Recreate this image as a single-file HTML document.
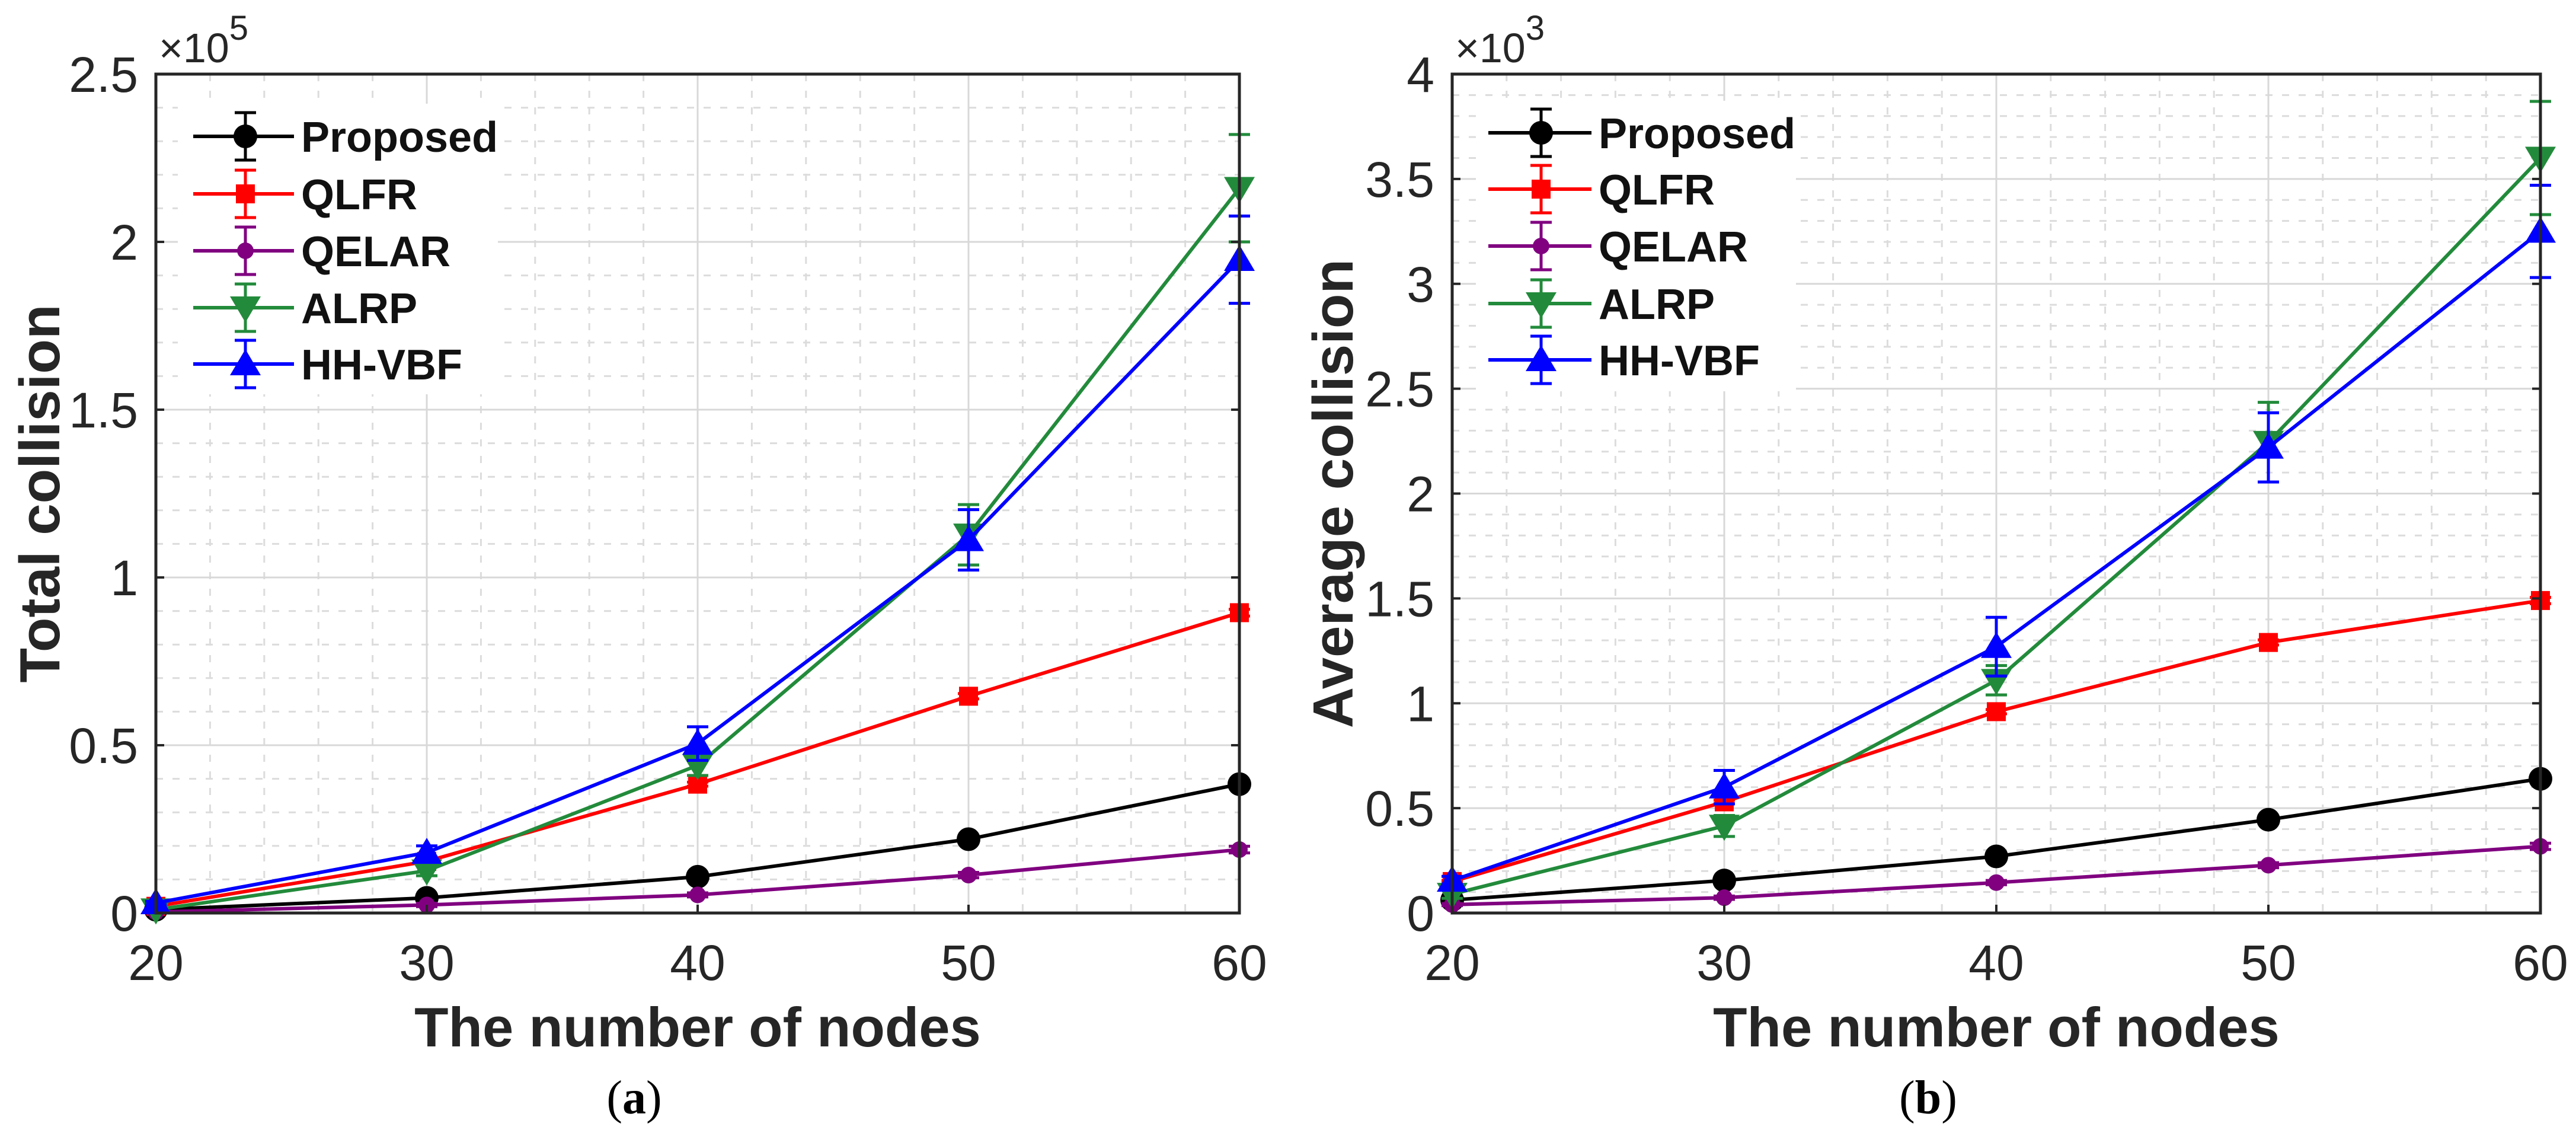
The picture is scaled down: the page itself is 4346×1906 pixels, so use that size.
<!DOCTYPE html>
<html><head><meta charset="utf-8">
<style>
html,body{margin:0;padding:0;background:#fff;}
svg{display:block;}
text{font-family:"Liberation Sans",sans-serif;}
</style></head>
<body>
<svg id="fig" width="4346" height="1906" viewBox="0 0 4346 1906" xmlns="http://www.w3.org/2000/svg"></svg>
<script>
const xCats = [20, 30, 40, 50, 60];
const seriesNames = ["Proposed", "QLFR", "QELAR", "ALRP", "HH-VBF"];
// Panel (a): total collision, units of 1e5
const aProposed = [0.01, 0.045, 0.108, 0.22, 0.384];
const aQLFR = [0.02, 0.154, 0.384, 0.646, 0.895];
const aQELAR = [0.003, 0.024, 0.054, 0.113, 0.189];
const aALRP = [0.01, 0.126, 0.44, 1.127, 2.16];
const aHHVBF = [0.03, 0.18, 0.505, 1.112, 1.947];
const aErrALRP = [0.005, 0.015, 0.03, 0.09, 0.16];
const aErrHHVBF = [0.005, 0.02, 0.05, 0.09, 0.13];
const aErrSmall = [0.003, 0.005, 0.006, 0.008, 0.01];
const aYTicks = [0, 0.5, 1, 1.5, 2, 2.5];
const aYTickLabels = ["0", "0.5", "1", "1.5", "2", "2.5"];
// Panel (b): average collision, units of 1e3
const bProposed = [0.062, 0.155, 0.27, 0.445, 0.64];
const bQLFR = [0.15, 0.53, 0.96, 1.29, 1.49];
const bQELAR = [0.04, 0.073, 0.145, 0.228, 0.318];
const bALRP = [0.09, 0.415, 1.11, 2.245, 3.6];
const bHHVBF = [0.155, 0.6, 1.27, 2.22, 3.25];
const bErrALRP = [0.02, 0.05, 0.07, 0.19, 0.27];
const bErrHHVBF = [0.02, 0.08, 0.14, 0.165, 0.22];
const bErrSmall = [0.005, 0.008, 0.01, 0.012, 0.015];
const bYTicks = [0, 0.5, 1, 1.5, 2, 2.5, 3, 3.5, 4];
const bYTickLabels = ["0", "0.5", "1", "1.5", "2", "2.5", "3", "3.5", "4"];
const xTickLabels = ["20", "30", "40", "50", "60"];

const NS = "http://www.w3.org/2000/svg";
const svg = document.getElementById("fig");
function mk(tag, attrs, parent, text) {
  const e = document.createElementNS(NS, tag);
  for (const k in attrs) e.setAttribute(k, attrs[k]);
  if (text !== undefined) e.textContent = text;
  (parent || svg).appendChild(e);
  return e;
}
const colors = ["#000000", "#ff0000", "#800080", "#228b3b", "#0000ff"];
const markers = ["circle", "square", "star", "tdown", "tup"];

function marker(g, type, cx, cy, col) {
  let m;
  if (type === "circle") m = mk("circle", {cx: cx, cy: cy, r: 20, fill: col}, g);
  else if (type === "square") m = mk("rect", {x: cx - 16, y: cy - 16, width: 32, height: 32, fill: col}, g);
  else if (type === "star") m = mk("circle", {cx: cx, cy: cy, r: 14, fill: col}, g);
  else if (type === "tdown") m = mk("polygon", {points: (cx - 26) + "," + (cy - 19) + " " + (cx + 26) + "," + (cy - 19) + " " + cx + "," + (cy + 25), fill: col}, g);
  else m = mk("polygon", {points: (cx - 26) + "," + (cy + 19) + " " + (cx + 26) + "," + (cy + 19) + " " + cx + "," + (cy - 25), fill: col}, g);
  
  
}
function errbar(g, cx, y1, y2, col) {
  mk("line", {x1: cx, y1: y1, x2: cx, y2: y2, stroke: col, "stroke-width": 5}, g);
  mk("line", {x1: cx - 18, y1: y1, x2: cx + 18, y2: y1, stroke: col, "stroke-width": 5}, g);
  mk("line", {x1: cx - 18, y1: y2, x2: cx + 18, y2: y2, stroke: col, "stroke-width": 5}, g);
}

function panel(cfg) {
  const {L, R, T, B, ymax, yTicks, yLabels, series, errs, ylabel, expo, legend, capX, ylabX, tag} = cfg;
  const g = mk("g", {});
  
  
  const xs = v => L + (v - 20) / 40 * (R - L);
  const ys = v => B - v / ymax * (B - T);
  const grid = mk("g", {}, g);
  
  
  for (let xv = 22; xv < 60; xv += 2) {
    if (xv % 10 === 0) continue;
    mk("line", {x1: xs(xv), y1: T, x2: xs(xv), y2: B, stroke: "#dcdcdc", "stroke-width": 3, "stroke-dasharray": "12 16"}, grid);
  }
  const maj = yTicks[1] - yTicks[0];
  const minorStep = maj / 5;
  for (let i = 1; i * minorStep < ymax - 1e-9; i++) {
    const v = i * minorStep;
    if (Math.abs(v / maj - Math.round(v / maj)) < 1e-6) continue;
    mk("line", {x1: L, y1: ys(v), x2: R, y2: ys(v), stroke: "#dcdcdc", "stroke-width": 3, "stroke-dasharray": "12 16"}, grid);
  }
  xCats.forEach(v => mk("line", {x1: xs(v), y1: T, x2: xs(v), y2: B, stroke: "#d8d8d8", "stroke-width": 3}, grid));
  yTicks.forEach(v => mk("line", {x1: L, y1: ys(v), x2: R, y2: ys(v), stroke: "#d8d8d8", "stroke-width": 3}, grid));
  const lg = mk("g", {}, g);
  
  
  mk("rect", {x: legend.x0, y: legend.y0, width: legend.w, height: legend.h, fill: "#fff"}, lg);
  series.forEach((vals, si) => {
    const sg = mk("g", {}, g);
    
    
    const col = colors[si];
    mk("polyline", {points: vals.map((v, i) => xs(xCats[i]) + "," + ys(v)).join(" "), fill: "none", stroke: col, "stroke-width": 6}, sg);
    vals.forEach((v, i) => {
      const e = errs[si][i];
      errbar(sg, xs(xCats[i]), ys(v + e), ys(v - e), col);
      marker(sg, markers[si], xs(xCats[i]), ys(v), col);
    });
  });
  const fr = mk("rect", {x: L, y: T, width: R - L, height: B - T, fill: "none", stroke: "#262626", "stroke-width": 5}, g);
  
  
  yTicks.forEach((v, i) => {
    mk("line", {x1: L, y1: ys(v), x2: L + 14, y2: ys(v), stroke: "#262626", "stroke-width": 4}, g);
    mk("line", {x1: R, y1: ys(v), x2: R - 14, y2: ys(v), stroke: "#262626", "stroke-width": 4}, g);
    const t = mk("text", {x: L - 30, y: ys(v) + 30, "text-anchor": "end", "font-size": 84, fill: "#262626"}, g, yLabels[i]);
    
    
  });
  xCats.forEach((v, i) => {
    mk("line", {x1: xs(v), y1: B, x2: xs(v), y2: B - 14, stroke: "#262626", "stroke-width": 4}, g);
    const t = mk("text", {x: xs(v), y: B + 113, "text-anchor": "middle", "font-size": 84, fill: "#262626"}, g, xTickLabels[i]);
    
    
  });
  const ex = mk("text", {x: L + 5, y: T - 20, "font-size": 70, fill: "#262626"}, g);
  
  
  mk("tspan", {}, ex, "×10");
  mk("tspan", {dy: -38, "font-size": 58}, ex, expo);
  const xt = mk("text", {x: (L + R) / 2, y: B + 225, "text-anchor": "middle", "font-size": 94, "font-weight": "bold", fill: "#262626"}, g, "The number of nodes");
  
  
  const yt = mk("text", {x: 0, y: 0, transform: "translate(" + ylabX + "," + ((T + B) / 2) + ") rotate(-90)", "text-anchor": "middle", "font-size": 96, "font-weight": "bold", fill: "#262626"}, g, ylabel);
  
  
  seriesNames.forEach((n, i) => {
    const y = legend.ys[i];
    const eg = mk("g", {}, lg);
    
    
    mk("line", {x1: legend.lx1, y1: y, x2: legend.lx2, y2: y, stroke: colors[i], "stroke-width": 6}, eg);
    errbar(eg, legend.mx, y - 40, y + 40, colors[i]);
    marker(eg, markers[i], legend.mx, y, colors[i]);
    mk("text", {x: legend.tx, y: y + 26, "font-size": 72, "font-weight": "bold", fill: "#111"}, eg, n);
  });
  const cp = mk("text", {x: capX, y: 1878, "text-anchor": "middle", "font-size": 80, fill: "#000", style: "font-family:'Liberation Serif',serif"}, g);
  
  
  mk("tspan", {}, cp, "(");
  mk("tspan", {"font-weight": "bold"}, cp, tag);
  mk("tspan", {}, cp, ")");
}

panel({L: 263, R: 2091, T: 125, B: 1540, ymax: 2.5, yTicks: aYTicks, yLabels: aYTickLabels,
  series: [aProposed, aQLFR, aQELAR, aALRP, aHHVBF],
  errs: [aErrSmall, aErrSmall, aErrSmall, aErrALRP, aErrHHVBF],
  ylabel: "Total collision", expo: "5",
  legend: {x0: 300, y0: 175, w: 540, h: 490, lx1: 326, lx2: 496, mx: 414, tx: 508, ys: [230, 327, 423, 519, 614]},
  capX: 1070, ylabX: 100, tag: "a"});
panel({L: 2450, R: 4286, T: 125, B: 1540, ymax: 4, yTicks: bYTicks, yLabels: bYTickLabels,
  series: [bProposed, bQLFR, bQELAR, bALRP, bHHVBF],
  errs: [bErrSmall, bErrSmall, bErrSmall, bErrALRP, bErrHHVBF],
  ylabel: "Average collision", expo: "3",
  legend: {x0: 2490, y0: 170, w: 540, h: 490, lx1: 2511, lx2: 2685, mx: 2600, tx: 2697, ys: [224, 319, 415, 512, 607]},
  capX: 3253, ylabX: 2282, tag: "b"});
</script>
</body></html>
